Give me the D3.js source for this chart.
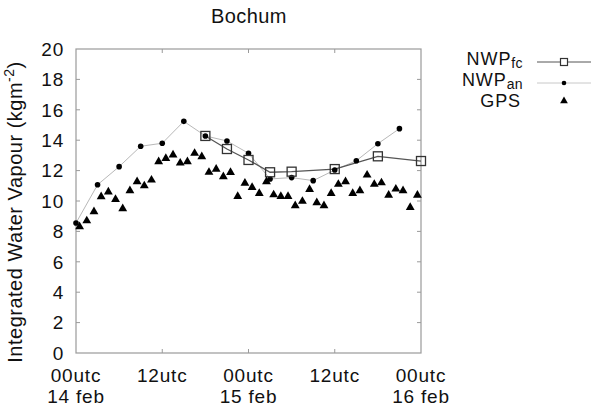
<!DOCTYPE html>
<html>
<head>
<meta charset="utf-8">
<script src="https://cdn.jsdelivr.net/npm/d3@7"></script>
<style>
  body { margin: 0; background: white; }
  text { font-family: "Liberation Sans", Arial, Helvetica, sans-serif; fill: #111; }
</style>
</head>
<body>
<div id="chart"></div>
<script>
// hours since 00utc 14 feb
let an_hours = [0, 3, 6, 9, 12, 15, 18, 21, 24, 27, 30, 33, 36, 39, 42, 45];
let an_values = [8.55, 11.07, 12.26, 13.6, 13.8, 15.24, 14.28, 13.95, 13.14, 11.45, 11.54, 11.34, 12.04, 12.65, 13.77, 14.76];

let fc_hours = [18, 21, 24, 27, 30, 36, 42, 48];
let fc_values = [14.28, 13.42, 12.7, 11.89, 11.93, 12.1, 12.94, 12.63];

// GPS every hour, at half past
let gps_hours = d3.range(0.5, 48, 1);
let gps_values = [8.31, 8.7, 9.3, 10.29, 10.6, 10.1, 9.5, 10.68, 11.27, 11.0,
  11.38, 12.59, 12.8, 13.03, 12.5, 12.59, 13.14, 12.92, 11.89, 12.09,
  11.6, 11.88, 10.3, 11.17, 10.9, 10.5, 11.27, 10.41, 10.3, 10.3,
  9.69, 9.98, 10.76, 9.89, 9.69, 10.5, 11.1, 11.27, 10.5, 10.68,
  11.71, 11.1, 11.2, 10.39, 10.79, 10.68, 9.58, 10.39];

let x_ticks = [0, 12, 24, 36, 48];
let x_tick_top = ["00utc", "12utc", "00utc", "12utc", "00utc"];
let x_tick_bottom = ["14 feb", "", "15 feb", "", "16 feb"];
let y_ticks = d3.range(0, 21, 2);

let w = 591, h = 408;
let margin = {top: 49, right: 170, bottom: 55, left: 76};

const svg = d3.select("#chart").append("svg")
  .attr("width", w).attr("height", h)
  .attr("viewBox", [0, 0, w, h]);

let x = d3.scaleLinear().domain([0, 48]).range([margin.left, w - margin.right]);
let y = d3.scaleLinear().domain([0, 20]).range([h - margin.bottom, margin.top]);

// frame with inward ticks (mirrored)
svg.append("rect")
  .attr("x", x(0)).attr("y", y(20))
  .attr("width", x(48) - x(0)).attr("height", y(0) - y(20))
  .attr("fill", "none").attr("stroke", "#9a9a9a").attr("stroke-width", 1.2);

svg.append("g").selectAll("line").data(y_ticks.slice(1, -1)).enter()
  .append("line")
  .attr("x1", x(0)).attr("x2", x(0) + 4)
  .attr("y1", d => y(d)).attr("y2", d => y(d))
  .attr("stroke", "#9a9a9a");
svg.append("g").selectAll("line").data(y_ticks.slice(1, -1)).enter()
  .append("line")
  .attr("x1", x(48)).attr("x2", x(48) - 4)
  .attr("y1", d => y(d)).attr("y2", d => y(d))
  .attr("stroke", "#9a9a9a");
svg.append("g").selectAll("line").data(x_ticks.slice(1, -1)).enter()
  .append("line")
  .attr("x1", d => x(d)).attr("x2", d => x(d))
  .attr("y1", y(0)).attr("y2", y(0) - 4)
  .attr("stroke", "#9a9a9a");
svg.append("g").selectAll("line").data(x_ticks.slice(1, -1)).enter()
  .append("line")
  .attr("x1", d => x(d)).attr("x2", d => x(d))
  .attr("y1", y(20)).attr("y2", y(20) + 4)
  .attr("stroke", "#9a9a9a");

// tick labels
svg.append("g").selectAll("text").data(y_ticks).enter()
  .append("text")
  .attr("x", x(0) - 12).attr("y", d => y(d))
  .attr("dy", "0.36em")
  .attr("text-anchor", "end")
  .style("font-size", "19px").style("letter-spacing", "0.8px")
  .text(d => d);

svg.append("g").selectAll("text").data(x_ticks).enter()
  .append("text")
  .attr("x", d => x(d)).attr("y", 382)
  .attr("text-anchor", "middle")
  .style("font-size", "19px").style("letter-spacing", "0.8px")
  .text((d, i) => x_tick_top[i]);
svg.append("g").selectAll("text").data(x_ticks).enter()
  .append("text")
  .attr("x", d => x(d)).attr("y", 403)
  .attr("text-anchor", "middle")
  .style("font-size", "19px").style("letter-spacing", "0.8px")
  .text((d, i) => x_tick_bottom[i]);

// axis title
let ytitle = svg.append("text")
  .attr("transform", "translate(22," + 212 + ") rotate(-90)")
  .attr("text-anchor", "middle")
  .style("font-size", "20px").style("letter-spacing", "0.5px");
ytitle.append("tspan").text("Integrated Water Vapour (kgm");
ytitle.append("tspan").attr("dy", -8).style("font-size", "14px").text("-2");
ytitle.append("tspan").attr("dy", 8).text(")");

// title
svg.append("text")
  .attr("x", 249).attr("y", 23)
  .attr("text-anchor", "middle")
  .style("font-size", "20px").style("letter-spacing", "0.4px")
  .text("Bochum");

// lines
let line_an = d3.line().x((d, i) => x(an_hours[i])).y(d => y(d));
let line_fc = d3.line().x((d, i) => x(fc_hours[i])).y(d => y(d));

svg.append("path").attr("d", line_an(an_values))
  .attr("fill", "none").attr("stroke", "#b8b8b8").attr("stroke-width", 1);
svg.append("path").attr("d", line_fc(fc_values))
  .attr("fill", "none").attr("stroke", "#555").attr("stroke-width", 1.3);

svg.append("g").selectAll("circle").data(an_values).enter()
  .append("circle")
  .attr("cx", (d, i) => x(an_hours[i])).attr("cy", d => y(d))
  .attr("r", 2.8).attr("fill", "#000");

svg.append("g").selectAll("rect").data(fc_values).enter()
  .append("rect")
  .attr("x", (d, i) => x(fc_hours[i]) - 4.5).attr("y", d => y(d) - 4.5)
  .attr("width", 9).attr("height", 9)
  .attr("fill", "none").attr("stroke", "#333").attr("stroke-width", 1.3);

let tri = d3.symbol().type(d3.symbolTriangle).size(34);
svg.append("g").selectAll("path").data(gps_values).enter()
  .append("path")
  .attr("d", tri)
  .attr("transform", (d, i) => "translate(" + x(gps_hours[i]) + "," + y(d) + ")")
  .attr("fill", "#000");

// legend
let legend = svg.append("g");
function legend_label(txt, sub, yy, xx) {
  let t = legend.append("text")
    .attr("x", xx).attr("y", yy)
    .attr("text-anchor", "end")
    .style("font-size", "18px").style("letter-spacing", "0.9px");
  t.append("tspan").text(txt);
  if (sub) t.append("tspan").attr("dy", 3).style("font-size", "14px").style("letter-spacing", "0.4px").text(sub);
}
legend_label("NWP", "fc", 65, 523);
legend_label("NWP", "an", 86, 523);
legend_label("GPS", "", 107, 521);

legend.append("line").attr("x1", 537).attr("x2", 591).attr("y1", 62).attr("y2", 62)
  .attr("stroke", "#555").attr("stroke-width", 1);
legend.append("rect").attr("x", 560.5).attr("y", 58.5).attr("width", 7).attr("height", 7)
  .attr("fill", "white").attr("stroke", "#333").attr("stroke-width", 1.2);
legend.append("line").attr("x1", 537).attr("x2", 591).attr("y1", 83).attr("y2", 83)
  .attr("stroke", "#c8c8c8").attr("stroke-width", 1);
legend.append("circle").attr("cx", 564).attr("cy", 83).attr("r", 2.3).attr("fill", "#000");
legend.append("path").attr("d", d3.symbol().type(d3.symbolTriangle).size(26))
  .attr("transform", "translate(564,101)").attr("fill", "#000");
</script>
</body>
</html>
